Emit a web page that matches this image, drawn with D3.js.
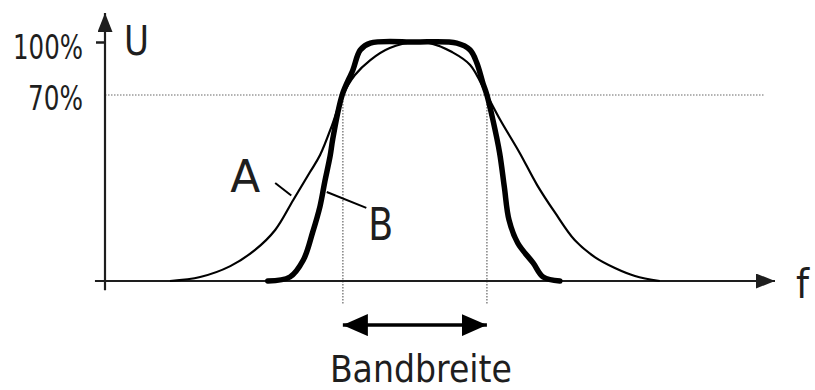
<!DOCTYPE html>
<html>
<head>
<meta charset="utf-8">
<script src="https://cdn.jsdelivr.net/npm/d3@7/dist/d3.min.js"></script>
<style>
  html, body { margin: 0; padding: 0; background: #fff; }
  svg { display: block; }
  text { font-family: "DejaVu Sans", sans-serif; fill: #1e1e1e; }
</style>
</head>
<body>
<svg id="chart" width="815" height="390"></svg>
<script>
// ---- data (f in arbitrary units 0..100, U in % of maximum) ----
const fA = [9.7, 14.2, 18.7, 22.4, 25.4, 28.1, 30.6, 32.1, 33.9, 35.5, 37.3, 39.6, 42.5, 46.3, 48.5, 51.8, 54.5, 57.0, 59.0, 61.9, 64.5, 67.2, 70.1, 73.1, 76.1, 79.1, 82.8];
const uA = [0, 1.5, 5.6, 11.7, 19.2, 30.5, 41.0, 47.4, 58.7, 70, 81.3, 89.8, 96.6, 100, 99.4, 94.3, 87.0, 70, 60.6, 48.2, 36.1, 25.6, 15.4, 9.0, 4.9, 1.9, 0];

const fB = [24.3, 27.6, 29.6, 31.0, 32.1, 32.8, 33.6, 34.0, 35.4, 37.0, 38.1, 39.6, 46.3, 52.5, 54.5, 55.5, 56.4, 57.0, 57.9, 58.9, 59.6, 60.3, 61.6, 63.9, 65.4, 67.9];
const uB = [0, 1.5, 7.9, 18.4, 28.2, 37.3, 47.0, 53.5, 70, 84.2, 95.5, 99.4, 100, 99.4, 95.5, 88.1, 76.8, 70, 60.6, 48.2, 35.4, 23.0, 14.3, 6.8, 1.5, 0];

const yTickValues = [70, 100];
const yTickLabels = ["70%", "100%"];
const bandEdges = [35.5, 57.0];          // f where the curves cross 70 %
const bandLabel = "Bandbreite";
const axisLabelY = "U";
const axisLabelX = "f";
const seriesNames = ["A", "B"];
// label anchor + leader line (data space)
const labelPos = [[18.7, 33.5], [39.3, 15.4]];
const leaderFrom = [[25.4, 36.9], [33.1, 33.5]];
const leaderTo = [[27.8, 32.2], [39.0, 27.5]];

// ---- scales ----
const svg = d3.select("#chart");
const x = d3.scaleLinear().domain([0, 100]).range([105, 775]);
const y = d3.scaleLinear().domain([0, 70, 100]).range([281, 95, 42]);

const ink = "#1e1e1e";

// markers
const defs = svg.append("defs");
function marker(id, w, h, color) {
  defs.append("marker").attr("id", id)
    .attr("viewBox", `0 0 ${w} ${h}`).attr("refX", w).attr("refY", h / 2)
    .attr("markerWidth", w).attr("markerHeight", h)
    .attr("markerUnits", "userSpaceOnUse").attr("orient", "auto-start-reverse")
    .append("path").attr("d", `M0,0L${w},${h / 2}L0,${h}Z`).attr("fill", color);
}
marker("axArrow", 19, 15, ink);
marker("bwArrow", 25, 22, "#000");

// reference lines (dotted)
svg.append("line")
  .attr("x1", x(0)).attr("x2", x(98.5))
  .attr("y1", y(70)).attr("y2", y(70))
  .attr("stroke", "#9a9a9a").attr("stroke-width", 1.6).attr("stroke-dasharray", "1.5,1.5");
svg.selectAll("line.band").data(bandEdges).join("line").attr("class", "band")
  .attr("x1", d => x(d)).attr("x2", d => x(d))
  .attr("y1", y(70)).attr("y2", y(-9))
  .attr("stroke", "#8a8a8a").attr("stroke-width", 1.6).attr("stroke-dasharray", "1.5,1.5");

// axes
const yAxis = d3.axisLeft(y).tickValues(yTickValues)
  .tickFormat((d, i) => yTickLabels[i]).tickSize(9).tickPadding(13);
const gy = svg.append("g").attr("transform", `translate(${x(0)},0)`).call(yAxis);
gy.select(".domain").remove();
gy.selectAll(".tick line").attr("stroke", ink).attr("stroke-width", 2.5)
  .attr("opacity", d => d === 100 ? 1 : 0);
gy.selectAll(".tick text")
  .attr("font-size", 33).attr("fill", "#2a2a2a")
  .attr("font-family", "DejaVu Sans, sans-serif")
  .attr("dy", d => d === 100 ? "0.5em" : "0.45em")
  .attr("textLength", d => d === 100 ? 70 : 55).attr("lengthAdjust", "spacingAndGlyphs");

svg.append("line").attr("x1", x(0)).attr("x2", x(0))
  .attr("y1", y(-3.5)).attr("y2", y(100) - 29)
  .attr("stroke", ink).attr("stroke-width", 2.2).attr("marker-end", "url(#axArrow)");
svg.append("line").attr("x1", x(-1.5)).attr("x2", x(100))
  .attr("y1", y(0)).attr("y2", y(0))
  .attr("stroke", ink).attr("stroke-width", 2.2).attr("marker-end", "url(#axArrow)");

// curves
const lineA = d3.line().x(d => x(d[0])).y(d => y(d[1])).curve(d3.curveCatmullRom.alpha(0.5));
const lineB = d3.line().x(d => x(d[0])).y(d => y(d[1])).curve(d3.curveCatmullRom.alpha(0.5));
const dataA = fA.map((f, i) => [f, uA[i]]);
const dataB = fB.map((f, i) => [f, uB[i]]);
svg.append("path").datum(dataA).attr("d", lineA)
  .attr("fill", "none").attr("stroke", "#000").attr("stroke-width", 2.2);
svg.append("path").datum(dataB).attr("d", lineB)
  .attr("fill", "none").attr("stroke", "#000").attr("stroke-width", 5.5)
  .attr("stroke-linejoin", "round").attr("stroke-linecap", "round");

// series labels + leaders
seriesNames.forEach((name, i) => {
  svg.append("line")
    .attr("x1", x(leaderFrom[i][0])).attr("y1", y(leaderFrom[i][1]))
    .attr("x2", x(leaderTo[i][0])).attr("y2", y(leaderTo[i][1]))
    .attr("stroke", "#000").attr("stroke-width", 2);
  svg.append("text").attr("x", x(labelPos[i][0])).attr("y", y(labelPos[i][1]))
    .attr("font-size", 44).attr("textLength", i === 0 ? 30 : 25)
    .attr("lengthAdjust", "spacingAndGlyphs").text(name);
});

// axis titles
svg.append("text").attr("x", 124).attr("y", 55).attr("font-size", 41)
  .attr("textLength", 25).attr("lengthAdjust", "spacingAndGlyphs").text(axisLabelY);
svg.append("text").attr("x", 796).attr("y", 298).attr("font-size", 41)
  .attr("textLength", 13).attr("lengthAdjust", "spacingAndGlyphs").text(axisLabelX);

// bandwidth arrow
svg.append("line")
  .attr("x1", x(bandEdges[0])).attr("x2", x(bandEdges[1]))
  .attr("y1", y(-16.6)).attr("y2", y(-16.6))
  .attr("stroke", "#000").attr("stroke-width", 3.5)
  .attr("marker-start", "url(#bwArrow)").attr("marker-end", "url(#bwArrow)");
svg.append("text")
  .attr("x", (x(bandEdges[0]) + x(bandEdges[1])) / 2 + 6).attr("y", 382)
  .attr("text-anchor", "middle").attr("font-size", 37)
  .attr("textLength", 182).attr("lengthAdjust", "spacingAndGlyphs").text(bandLabel);
</script>
</body>
</html>
